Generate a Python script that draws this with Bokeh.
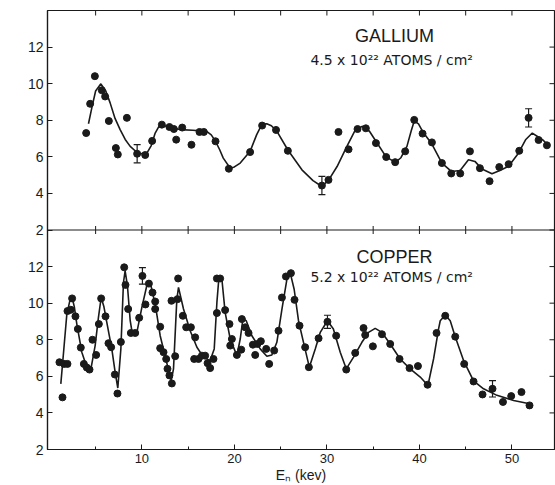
import math
from bokeh.plotting import figure
from bokeh.models import (LinearAxis, FixedTicker, Whisker, ColumnDataSource,
                          Label, Range1d, TeeHead, Span)
from bokeh.transform import dodge
from bokeh.embed import file_html
from bokeh.resources import INLINE

# ---------------- data ----------------
# Gallium measured points
ga_x = [3.98, 4.41, 4.92, 5.67, 6.03, 6.43, 7.19, 7.40, 8.38, 9.49, 10.36, 11.11,
        12.16, 12.98, 13.46, 13.71, 14.36, 15.36, 16.23, 16.70, 17.96, 19.40, 21.70,
        23.00, 24.50, 25.78, 29.46, 30.17, 31.25, 32.34, 33.31, 34.21, 35.30, 36.41,
        37.38, 38.46, 39.44, 40.34, 41.35, 42.43, 43.44, 44.41, 45.46, 46.54, 47.58,
        48.63, 49.64, 50.79, 51.80, 52.88, 53.78]
ga_y = [7.30, 8.90, 10.41, 9.64, 9.30, 7.96, 6.48, 6.13, 8.13, 6.17, 6.10, 6.87,
        7.76, 7.63, 7.52, 6.94, 7.60, 6.66, 7.36, 7.36, 6.85, 5.35, 6.26,
        7.71, 7.47, 6.33, 4.43, 4.74, 7.36, 6.41, 7.52, 7.56, 6.75, 5.99,
        5.71, 6.30, 8.02, 7.27, 6.79, 5.66, 5.09, 5.09, 6.30, 5.38, 4.67,
        5.44, 5.60, 6.33, 8.13, 6.92, 6.63]
# Gallium error bars
ga_err_x = [9.49, 29.46, 51.80]
ga_err_y = [6.17, 4.43, 8.13]
ga_err_d = [0.5, 0.5, 0.5]
# Gallium fitted curve
ga_curve_x = [4.23, 4.6, 5.0, 5.57, 6.1, 6.57, 7.1, 7.65, 8.2, 8.74, 9.63, 10.54,
              11.0, 11.44, 11.8, 12.16, 13.0, 14.14, 15.5, 17.0, 17.5, 17.96, 18.4,
              18.8, 19.55, 20.0, 20.63, 21.7, 22.4, 22.97, 23.5, 24.0, 24.6, 25.8,
              27.3, 28.5, 29.46, 30.2, 31.1, 32.16, 33.06, 33.85, 34.6, 35.3, 36.4,
              37.4, 38.0, 38.65, 39.1, 39.44, 39.9, 40.4, 41.35, 42.43, 43.45, 44.4,
              45.3, 46.0, 46.76, 47.84, 48.7, 49.64, 50.7, 51.5, 52.2, 52.8, 53.3, 53.8]
ga_curve_y = [7.81, 8.7, 9.6, 9.99, 9.6, 8.95, 8.1, 7.49, 6.95, 6.57, 6.17, 6.2,
              6.6, 7.3, 7.62, 7.76, 7.6, 7.49, 7.45, 7.39, 7.2, 6.85, 6.4,
              5.93, 5.38, 5.45, 5.66, 6.3, 7.2, 7.78, 7.81, 7.7, 7.39, 6.36,
              5.29, 4.7, 4.38, 4.74, 5.47, 6.57, 7.46, 7.67, 7.4, 6.85, 6.0,
              5.7, 5.95, 6.57, 7.4, 7.96, 7.8, 7.34, 6.7, 5.66, 5.2, 5.25,
              5.84, 5.75, 5.33, 5.07, 5.25, 5.48, 6.2, 6.95, 7.3, 7.1, 6.94, 6.7]

# Copper measured points
cu_x = [1.09, 1.42, 1.60, 1.96, 1.96, 2.32, 2.46, 2.82, 3.08, 3.40, 3.73, 4.05,
        4.34, 4.66, 5.06, 5.35, 5.60, 6.07, 6.39, 6.68, 7.08, 7.36, 7.73, 8.09,
        8.23, 8.52, 8.81, 9.28, 9.71, 10.06, 10.39, 10.76, 11.15, 11.44, 11.44,
        11.98, 11.98, 12.34, 12.63, 12.77, 12.98, 13.24, 13.20, 13.60, 13.92, 13.85,
        14.43, 14.79, 15.30, 15.76, 15.65, 16.12, 16.49, 16.84, 17.10, 17.38, 17.74,
        18.11, 18.11, 18.46, 19.00, 19.47, 19.73, 19.55, 20.27, 20.74, 20.81, 21.17,
        21.53, 22.00, 22.25, 22.50, 22.86, 23.44, 23.76, 24.30, 24.77, 25.14, 25.57,
        26.11, 26.50, 27.04, 27.65, 28.05, 29.10, 30.06, 31.00, 32.09, 33.06, 33.96,
        34.14, 34.97, 35.95, 36.84, 37.85, 38.93, 39.84, 40.88, 41.85, 42.79, 43.87,
        44.84, 45.85, 46.82, 47.90, 49.03, 49.92, 51.03, 51.90]
cu_y = [6.77, 4.85, 6.68, 6.68, 9.57, 9.64, 10.26, 9.28, 8.59, 7.57, 6.68, 6.48,
        6.37, 8.00, 7.17, 8.86, 10.26, 9.28, 7.81, 7.59, 6.10, 5.06, 7.88, 11.96,
        11.00, 9.68, 8.37, 8.37, 9.20, 11.49, 9.93, 11.07, 10.58, 10.09, 9.68,
        8.71, 7.54, 7.32, 6.95, 6.41, 6.05, 5.61, 10.13, 7.10, 11.35, 10.22,
        9.31, 8.68, 8.68, 8.13, 6.95, 6.95, 7.13, 7.13, 6.72, 6.45, 6.95,
        9.46, 11.35, 11.35, 9.62, 8.86, 8.04, 7.68, 7.17, 7.46, 9.13, 8.68,
        8.37, 7.73, 7.17, 7.77, 7.92, 7.50, 6.68, 7.41, 8.49, 10.31, 11.46,
        11.64, 10.18, 8.77, 7.59, 6.50, 8.08, 8.98, 8.22, 6.37, 7.28, 8.64,
        8.26, 7.64, 8.30, 7.77, 6.95, 6.45, 6.56, 5.54, 8.37, 9.31, 8.17,
        6.68, 5.72, 5.01, 5.32, 4.60, 4.92, 5.14, 4.41]
# Copper error bars
cu_err_x = [10.06, 30.06, 47.90]
cu_err_y = [11.49, 8.98, 5.32]
cu_err_d = [0.45, 0.36, 0.45]
# Copper fitted curve
cu_curve_x = [1.24, 1.55, 1.89, 2.2, 2.46, 2.7, 2.97, 3.51, 4.05, 4.48, 4.95, 5.3,
              5.6, 5.9, 6.21, 6.75, 7.11, 7.4, 7.73, 8.01, 8.19, 8.44, 8.74, 8.92,
              9.46, 10.0, 10.61, 10.9, 11.44, 11.98, 12.63, 13.17, 13.42, 13.78,
              13.96, 14.5, 15.22, 15.95, 16.66, 17.38, 17.82, 18.11, 18.32, 18.65,
              19.0, 19.55, 20.27, 20.63, 20.92, 21.28, 21.89, 22.79, 23.51, 24.05,
              24.59, 25.14, 25.68, 26.03, 26.46, 26.93, 27.47, 28.1, 28.74, 29.28,
              30.06, 30.7, 31.44, 32.09, 32.88, 33.78, 34.5, 35.22, 35.95, 36.84,
              37.92, 39.0, 40.09, 40.92, 41.53, 42.07, 42.25, 42.79, 43.33, 43.87,
              44.77, 45.85, 46.93, 48.38, 50.18, 51.9]
cu_curve_y = [5.59, 7.4, 9.4, 10.1, 10.31, 9.8, 8.86, 7.32, 6.5, 6.37, 7.68, 9.2,
              10.31, 9.8, 8.95, 7.5, 6.23, 5.36, 7.5, 11.13, 11.76, 10.95, 9.04, 8.49,
              8.4, 9.77, 11.13, 11.13, 9.95, 8.22, 6.86, 5.77, 6.41, 10.22,
              10.86, 9.68, 8.49, 7.59, 7.05, 6.86, 7.5, 10.04, 11.35, 11.31,
              9.5, 8.04, 7.13, 8.04, 9.13, 9.04, 8.22, 7.5, 7.1, 7.17,
              7.86, 9.68, 11.31, 11.67, 10.76, 9.04, 7.86, 6.5, 7.5, 8.4,
              9.04, 8.59, 7.32, 6.41, 7.05, 7.86, 8.4, 8.62, 8.4, 7.77,
              6.95, 6.41, 5.96, 5.5, 6.95, 8.59, 9.04, 9.35, 9.04, 8.17,
              6.86, 5.75, 5.32, 4.96, 4.68, 4.5]

# tick values / labels
y_ticks = [2, 4, 6, 8, 10, 12]
y_tick_labels = ["2", "4", "6", "8", "10", "12"]
x_major = [10, 20, 30, 40, 50]
x_minor = [5, 15, 25, 35, 45]
x_edge_ticks = [5, 10, 15, 20, 25, 30, 35, 40, 45, 50]

titles = ["GALLIUM", "COPPER"]
densities = ["4.5 x 10²² ATOMS / cm²", "5.2 x 10²² ATOMS / cm²"]
y_label = "σₜ (barns)"
x_label = "Eₙ (kev)"

# layout constants: both panels span 2..14 barns; the upper panel is
# stacked on the lower one by a dodge of one panel height.
Y_MIN, PANEL = 2, 12
STACK = PANEL
X_START, X_END = -0.2, 54.6
Y_END = Y_MIN + 2 * PANEL

INK = "#1a1a1a"
FONT = "Liberation Sans"
LFONT = "DejaVu Sans"

p = figure(width=555, height=485, output_backend="svg", toolbar_location=None,
           x_axis_type=None, y_axis_type=None,
           x_range=Range1d(X_START, X_END), y_range=Range1d(Y_MIN, Y_END),
           min_border_left=47, min_border_right=1, min_border_top=10,
           min_border_bottom=34, background_fill_color="white",
           border_fill_color="white", outline_line_color=INK,
           outline_line_width=1.2)
p.grid.visible = False

# left axis: both panels' ticks, labelled with each panel's own values
left_ticks = y_ticks + [t + STACK for t in y_ticks]
left_over = {t + STACK: s for t, s in zip(y_ticks, y_tick_labels)}
left_over.update({t: s for t, s in zip(y_ticks, y_tick_labels)})
left = LinearAxis(ticker=FixedTicker(ticks=left_ticks),
                  major_label_overrides=left_over,
                  major_tick_in=5, major_tick_out=0, minor_tick_in=0,
                  minor_tick_out=0, major_label_standoff=4,
                  major_label_text_font=FONT, major_label_text_font_size="14px",
                  major_label_text_color=INK, axis_line_color=INK,
                  major_tick_line_color=INK, axis_line_width=1.2)
p.add_layout(left, "left")

bottom = LinearAxis(ticker=FixedTicker(ticks=x_major, minor_ticks=x_minor),
                    axis_label=x_label, major_tick_in=5, major_tick_out=0,
                    minor_tick_in=3, minor_tick_out=0,
                    major_label_standoff=4, axis_label_standoff=1,
                    major_label_text_font=FONT, major_label_text_font_size="13px",
                    major_label_text_color=INK, axis_label_text_font=FONT,
                    axis_label_text_font_size="14px",
                    axis_label_text_font_style="normal",
                    axis_label_text_color=INK, axis_line_color=INK,
                    major_tick_line_color=INK, minor_tick_line_color=INK,
                    axis_line_width=1.2)
p.add_layout(bottom, "below")

# line between the two panels
p.add_layout(Span(location=Y_MIN + STACK, dimension="width",
                  line_color=INK, line_width=1.2))

# inward tick marks on right edge, top edge and the shared middle line
n_r = len(left_ticks)
p.ray(x=[X_END] * n_r, y=left_ticks, length=5, length_units="screen",
      angle=math.pi, line_color=INK, line_width=1)
n_t = len(x_edge_ticks)
p.ray(x=x_edge_ticks, y=[Y_END] * n_t, length=5, length_units="screen",
      angle=-math.pi / 2, line_color=INK, line_width=1)
p.ray(x=x_edge_ticks, y=[Y_MIN + STACK] * n_t, length=4, length_units="screen",
      angle=math.pi / 2, line_color=INK, line_width=1)
p.ray(x=x_edge_ticks, y=[Y_MIN + STACK] * n_t, length=4, length_units="screen",
      angle=-math.pi / 2, line_color=INK, line_width=1)


def draw_panel(px, py, cx, cy, ex, ey, ed, shift, title, dens, title_y, dens_y,
               label_y):
    curve = ColumnDataSource(dict(x=cx, y=cy))
    pts = ColumnDataSource(dict(x=px, y=py))
    p.line("x", dodge("y", shift), source=curve, line_color=INK, line_width=1.6)
    p.scatter("x", dodge("y", shift), source=pts, size=7, color=INK)
    err = ColumnDataSource(dict(x=ex, lo=[a - b for a, b in zip(ey, ed)],
                                hi=[a + b for a, b in zip(ey, ed)]))
    p.add_layout(Whisker(source=err, base="x", lower=dodge("lo", shift),
                         upper=dodge("hi", shift), line_color=INK, line_width=1.2,
                         upper_head=TeeHead(size=7, line_color=INK, line_width=1.2),
                         lower_head=TeeHead(size=7, line_color=INK, line_width=1.2)))
    p.add_layout(Label(x=37.3, y=title_y + shift, text=title, text_align="center",
                       text_baseline="middle", text_font=FONT,
                       text_font_size="18px", text_color=INK))
    p.add_layout(Label(x=37.0, y=dens_y + shift, text=dens, text_align="center",
                       text_baseline="middle", text_font=LFONT,
                       text_font_size="14px", text_color=INK))
    p.add_layout(Label(x=-3.1, y=label_y + shift, text=y_label, angle=math.pi / 2,
                       text_align="center", text_baseline="middle", text_font=FONT,
                       text_font_size="16px", text_color=INK))


draw_panel(ga_x, ga_y, ga_curve_x, ga_curve_y, ga_err_x, ga_err_y, ga_err_d,
           STACK, titles[0], densities[0], 12.59, 11.27, 7.6)
draw_panel(cu_x, cu_y, cu_curve_x, cu_curve_y, cu_err_x, cu_err_y, cu_err_d,
           0, titles[1], densities[1], 12.52, 11.42, 7.55)

with open("out.html", "w") as f:
    f.write(file_html(p, INLINE))
